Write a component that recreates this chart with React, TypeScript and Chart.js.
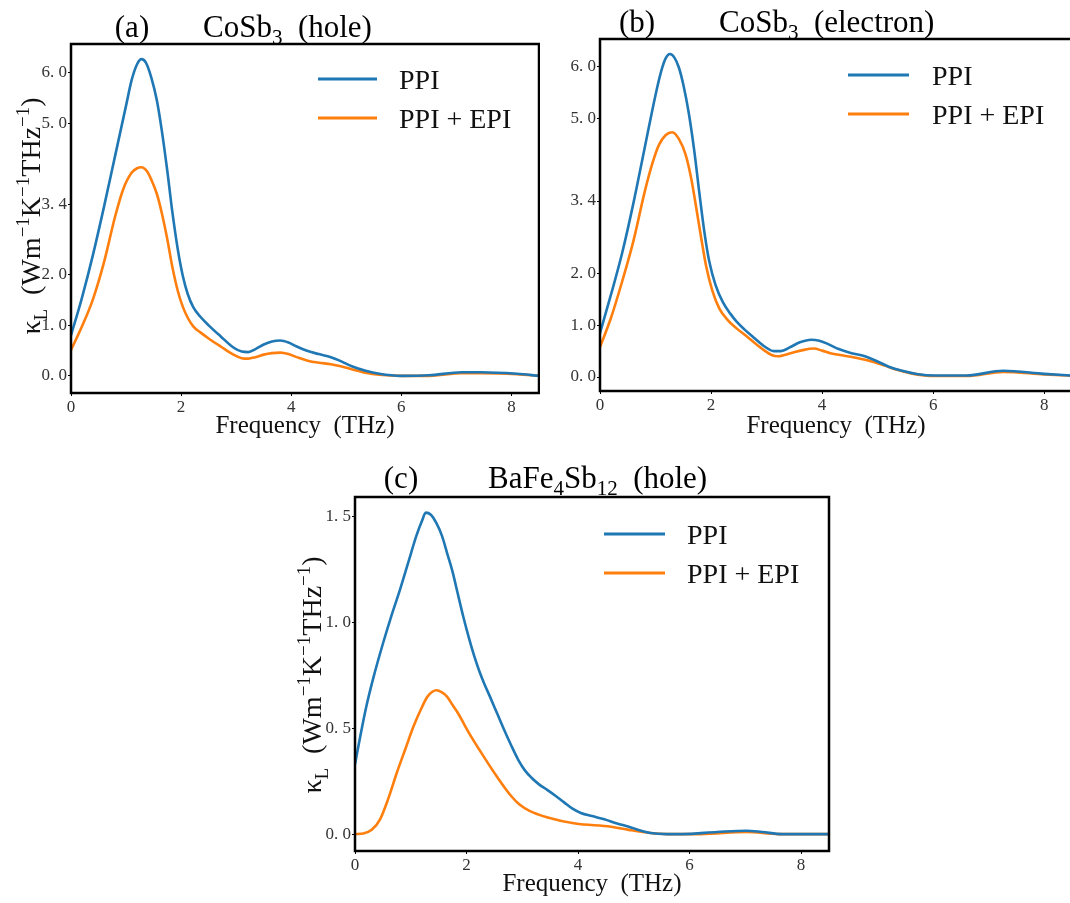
import React, { useEffect, useRef } from 'react';
import { Chart, registerables } from 'chart.js';

Chart.register(...registerables);

const BLUE = '#1f77b4';
const ORANGE = '#ff7f0e';
const SERIF = '"Liberation Serif", "Times New Roman", serif';

// ---------- data ----------
const xTicks = [0, 2, 4, 6, 8];
const seriesNames = ['PPI', 'PPI + EPI'];

// (a) CoSb3 hole
const freqA_ppi = [0, 0.2, 0.4, 0.6, 0.8, 1.0, 1.1, 1.2, 1.28, 1.36, 1.46, 1.56, 1.65, 1.75, 1.84, 1.94, 2.03, 2.12, 2.22, 2.35, 2.5, 2.72, 2.95, 3.1, 3.22, 3.35, 3.5, 3.65, 3.8, 3.95, 4.1, 4.3, 4.5, 4.72, 4.9, 5.1, 5.35, 5.6, 6.0, 6.5, 7.1, 7.45, 8.1, 8.5];
const ppiA = [0.8, 1.55, 2.4, 3.35, 4.35, 5.35, 5.85, 6.17, 6.27, 6.2, 5.9, 5.45, 4.85, 4.05, 3.25, 2.5, 1.98, 1.62, 1.36, 1.17, 1.0, 0.78, 0.56, 0.48, 0.47, 0.53, 0.62, 0.68, 0.7, 0.66, 0.58, 0.49, 0.43, 0.37, 0.29, 0.19, 0.1, 0.04, 0.0, 0.01, 0.07, 0.07, 0.04, 0.0];
const freqA_epi = [0, 0.2, 0.4, 0.6, 0.8, 0.95, 1.1, 1.2, 1.28, 1.38, 1.46, 1.56, 1.65, 1.75, 1.84, 1.94, 2.03, 2.12, 2.22, 2.35, 2.5, 2.72, 2.95, 3.1, 3.22, 3.35, 3.5, 3.65, 3.8, 3.95, 4.1, 4.3, 4.5, 4.72, 4.9, 5.1, 5.35, 5.6, 6.0, 6.5, 7.1, 7.45, 8.1, 8.5];
const epiA = [0.51, 0.98, 1.52, 2.25, 3.15, 3.7, 4.02, 4.11, 4.13, 4.05, 3.88, 3.6, 3.22, 2.7, 2.16, 1.68, 1.37, 1.15, 0.98, 0.86, 0.74, 0.58, 0.42, 0.35, 0.34, 0.37, 0.42, 0.45, 0.46, 0.43, 0.37, 0.3, 0.26, 0.23, 0.19, 0.13, 0.06, 0.02, 0.0, 0.0, 0.05, 0.05, 0.03, 0.0];
const yTicksA = [0, 1, 2, 3.4, 5, 6];
const yLabelsA = ['0. 0', '1. 0', '2. 0', '3. 4', '5. 0', '6. 0'];

// (b) CoSb3 electron
const freqB_ppi = [0, 0.2, 0.4, 0.6, 0.8, 1.0, 1.1, 1.18, 1.26, 1.34, 1.42, 1.5, 1.6, 1.7, 1.79, 1.88, 1.97, 2.08, 2.21, 2.35, 2.46, 2.6, 2.76, 2.95, 3.13, 3.25, 3.43, 3.6, 3.8, 3.95, 4.1, 4.3, 4.5, 4.77, 5.0, 5.2, 5.44, 5.7, 6.04, 6.6, 7.26, 8.0, 8.6];
const ppiB = [0.85, 1.6, 2.4, 3.35, 4.4, 5.45, 5.9, 6.15, 6.24, 6.17, 5.98, 5.65, 5.09, 4.35, 3.55, 2.8, 2.22, 1.78, 1.45, 1.22, 1.07, 0.92, 0.77, 0.6, 0.5, 0.5, 0.58, 0.67, 0.72, 0.7, 0.64, 0.54, 0.47, 0.4, 0.3, 0.2, 0.12, 0.06, 0.03, 0.03, 0.12, 0.06, 0.02];
const freqB_epi = [0, 0.2, 0.4, 0.6, 0.81, 0.95, 1.06, 1.18, 1.3, 1.42, 1.54, 1.64, 1.73, 1.82, 1.91, 2.02, 2.15, 2.3, 2.46, 2.6, 2.76, 2.95, 3.1, 3.2, 3.43, 3.65, 3.85, 4.0, 4.15, 4.35, 4.52, 4.83, 5.13, 5.35, 5.6, 6.04, 6.6, 7.26, 8.0, 8.6];
const epiB = [0.58, 1.15, 1.85, 2.62, 3.6, 4.15, 4.48, 4.67, 4.73, 4.6, 4.3, 3.85, 3.29, 2.7, 2.15, 1.68, 1.32, 1.1, 0.94, 0.82, 0.68, 0.52, 0.42, 0.4, 0.46, 0.52, 0.55, 0.51, 0.46, 0.42, 0.39, 0.32, 0.22, 0.14, 0.07, 0.02, 0.02, 0.1, 0.05, 0.02];
const yTicksB = [0, 1, 2, 3.4, 5, 6];
const yLabelsB = ['0. 0', '1. 0', '2. 0', '3. 4', '5. 0', '6. 0'];

// (c) BaFe4Sb12 hole
const freqC_ppi = [0, 0.1, 0.2, 0.33, 0.5, 0.65, 0.8, 0.95, 1.1, 1.2, 1.27, 1.36, 1.46, 1.56, 1.65, 1.75, 1.84, 1.94, 2.04, 2.14, 2.23, 2.32, 2.42, 2.55, 2.68, 2.8, 2.93, 3.05, 3.17, 3.3, 3.44, 3.6, 3.75, 3.9, 4.05, 4.25, 4.47, 4.7, 4.91, 5.1, 5.3, 5.6, 5.87, 6.5, 7.02, 7.3, 7.66, 8.5];
const ppiC = [0.33, 0.47, 0.6, 0.74, 0.9, 1.03, 1.15, 1.28, 1.41, 1.48, 1.52, 1.51, 1.47, 1.41, 1.33, 1.24, 1.14, 1.03, 0.93, 0.84, 0.77, 0.71, 0.65, 0.57, 0.49, 0.42, 0.35, 0.3, 0.265, 0.235, 0.21, 0.18, 0.15, 0.12, 0.1, 0.085, 0.07, 0.05, 0.035, 0.018, 0.005, 0.0, 0.0, 0.01, 0.016, 0.01, 0.0, 0.0];
const freqC_epi = [0, 0.15, 0.3, 0.45, 0.6, 0.75, 0.9, 1.05, 1.2, 1.3, 1.46, 1.56, 1.65, 1.75, 1.85, 2.04, 2.3, 2.55, 2.8, 2.95, 3.13, 3.44, 3.95, 4.59, 4.91, 5.3, 5.6, 6.2, 7.02, 7.6, 8.5];
const epiC = [0.0, 0.003, 0.02, 0.07, 0.17, 0.29, 0.4, 0.51, 0.6, 0.65, 0.68, 0.67, 0.65, 0.61, 0.57, 0.48, 0.37, 0.27, 0.18, 0.14, 0.11, 0.08, 0.05, 0.035, 0.02, 0.005, 0.0, 0.0, 0.01, 0.0, 0.0];
const yTicksC = [0, 0.5, 1.0, 1.5];
const yLabelsC = ['0. 0', '0. 5', '1. 0', '1. 5'];

// ---------- rich text helper ----------
type Seg = { t: string; sub?: boolean; sup?: boolean };

function drawRich(ctx: CanvasRenderingContext2D, segs: Seg[], x: number, y: number, size: number, align: 'left' | 'center') {
  const fontOf = (s: Seg) => `${s.sub || s.sup ? Math.round(size * 0.68) : size}px ${SERIF}`;
  let total = 0;
  const widths = segs.map((s) => {
    ctx.font = fontOf(s);
    const w = ctx.measureText(s.t).width;
    total += w;
    return w;
  });
  let cx = align === 'center' ? x - total / 2 : x;
  ctx.textAlign = 'left';
  ctx.textBaseline = 'alphabetic';
  segs.forEach((s, i) => {
    ctx.font = fontOf(s);
    const dy = s.sub ? size * 0.24 : s.sup ? -size * 0.4 : 0;
    ctx.fillText(s.t, cx, y + dy);
    cx += widths[i];
  });
}

const yTitleSegs: Seg[] = [
  { t: 'κ' }, { t: 'L', sub: true }, { t: '  (Wm' }, { t: '−1', sup: true }, { t: 'K' }, { t: '−1', sup: true },
  { t: 'THz' }, { t: '−1', sup: true }, { t: ')' },
];

type PanelCfg = {
  pos: { left: number; top: number; width: number; height: number };
  area: { left: number; top: number; right: number; bottom: number };
  xMax: number;
  yMin: number;
  yMax: number;
  yTicks: number[];
  yLabels: string[];
  series: { x: number[]; y: number[]; color: string; label: string }[];
  tag: { text: string; cx: number; base: number };
  main: { segs: Seg[]; x: number; base: number };
  legend: { x1: number; x2: number; y1: number; y2: number; textX: number };
  xTitleBase: number;
  yTitle?: { x: number; cy: number };
};

const panels: PanelCfg[] = [
  {
    pos: { left: 0, top: 0, width: 540, height: 450 },
    area: { left: 71, top: 44, right: 539, bottom: 393 },
    xMax: 8.5, yMin: -0.34, yMax: 6.57, yTicks: yTicksA, yLabels: yLabelsA,
    series: [
      { x: freqA_ppi, y: ppiA, color: BLUE, label: seriesNames[0] },
      { x: freqA_epi, y: epiA, color: ORANGE, label: seriesNames[1] },
    ],
    tag: { text: '(a)', cx: 132, base: 37 },
    main: { segs: [{ t: 'CoSb' }, { t: '3', sub: true }, { t: '  (hole)' }], x: 203, base: 37 },
    legend: { x1: 318, x2: 377, y1: 79, y2: 118, textX: 399 },
    xTitleBase: 433,
    yTitle: { x: 40, cy: 216 },
  },
  {
    pos: { left: 540, top: 0, width: 540, height: 450 },
    area: { left: 60, top: 39, right: 532, bottom: 391 },
    xMax: 8.5, yMin: -0.27, yMax: 6.53, yTicks: yTicksB, yLabels: yLabelsB,
    series: [
      { x: freqB_ppi, y: ppiB, color: BLUE, label: seriesNames[0] },
      { x: freqB_epi, y: epiB, color: ORANGE, label: seriesNames[1] },
    ],
    tag: { text: '(b)', cx: 97, base: 32 },
    main: { segs: [{ t: 'CoSb' }, { t: '3', sub: true }, { t: '  (electron)' }], x: 179, base: 32 },
    legend: { x1: 308, x2: 369, y1: 75, y2: 114, textX: 392 },
    xTitleBase: 433,
  },
  {
    pos: { left: 290, top: 460, width: 560, height: 443 },
    area: { left: 65, top: 37, right: 539, bottom: 391 },
    xMax: 8.5, yMin: -0.08, yMax: 1.594, yTicks: yTicksC, yLabels: yLabelsC,
    series: [
      { x: freqC_ppi, y: ppiC, color: BLUE, label: seriesNames[0] },
      { x: freqC_epi, y: epiC, color: ORANGE, label: seriesNames[1] },
    ],
    tag: { text: '(c)', cx: 111, base: 28 },
    main: { segs: [{ t: 'BaFe' }, { t: '4', sub: true }, { t: 'Sb' }, { t: '12', sub: true }, { t: '  (hole)' }], x: 198, base: 28 },
    legend: { x1: 314, x2: 375, y1: 74, y2: 113, textX: 397 },
    xTitleBase: 431,
    yTitle: { x: 31, cy: 215 },
  },
];

function Panel({ cfg }: { cfg: PanelCfg }) {
  const ref = useRef<HTMLCanvasElement | null>(null);
  useEffect(() => {
    if (!ref.current) return;
    const { pos, area } = cfg;
    const deco = {
      id: 'deco',
      afterDraw(chart: any) {
        const ctx: CanvasRenderingContext2D = chart.ctx;
        const a = chart.chartArea;
        ctx.save();
        // frame
        ctx.strokeStyle = '#000';
        ctx.lineWidth = 2.5;
        ctx.strokeRect(a.left, a.top, a.right - a.left, a.bottom - a.top);
        ctx.fillStyle = '#000';
        // titles
        ctx.font = `31px ${SERIF}`;
        ctx.textAlign = 'center';
        ctx.textBaseline = 'alphabetic';
        ctx.fillText(cfg.tag.text, cfg.tag.cx, cfg.tag.base);
        drawRich(ctx, cfg.main.segs, cfg.main.x, cfg.main.base, 31, 'left');
        // x title
        ctx.font = `25px ${SERIF}`;
        ctx.textAlign = 'center';
        ctx.fillStyle = '#111';
        ctx.fillText('Frequency  (THz)', (a.left + a.right) / 2, cfg.xTitleBase);
        // y title
        if (cfg.yTitle) {
          ctx.save();
          ctx.translate(cfg.yTitle.x, cfg.yTitle.cy);
          ctx.rotate(-Math.PI / 2);
          drawRich(ctx, yTitleSegs, 0, 0, 28, 'center');
          ctx.restore();
        }
        // legend
        const L = cfg.legend;
        [L.y1, L.y2].forEach((yy, i) => {
          ctx.strokeStyle = cfg.series[i].color;
          ctx.lineWidth = 3;
          ctx.beginPath();
          ctx.moveTo(L.x1, yy);
          ctx.lineTo(L.x2, yy);
          ctx.stroke();
          ctx.fillStyle = '#111';
          ctx.font = `28px ${SERIF}`;
          ctx.textAlign = 'left';
          ctx.textBaseline = 'alphabetic';
          ctx.fillText(cfg.series[i].label, L.textX, yy + 10);
        });
        ctx.restore();
      },
    };
    const tickFont = { family: SERIF, size: 17 };
    const chart = new Chart(ref.current, {
      type: 'line',
      data: {
        datasets: cfg.series.map((s) => ({
          label: s.label,
          data: s.x.map((x, i) => ({ x, y: s.y[i] })),
          borderColor: s.color,
          backgroundColor: s.color,
          borderWidth: 2.6,
          pointRadius: 0,
          cubicInterpolationMode: 'monotone' as const,
          fill: false,
        })),
      },
      options: {
        animation: false,
        responsive: false,
        layout: { padding: { left: 0, top: area.top, right: pos.width - area.right, bottom: 0 } },
        plugins: { legend: { display: false }, title: { display: false }, tooltip: { enabled: false } },
        scales: {
          x: {
            type: 'linear',
            min: 0,
            max: cfg.xMax,
            afterFit: (s: any) => { s.height = pos.height - area.bottom; },
            afterBuildTicks: (s: any) => { s.ticks = xTicks.map((v) => ({ value: v })); },
            ticks: { font: tickFont, color: '#333', padding: 1, maxRotation: 0, callback: (v: any) => String(v) },
            grid: { drawOnChartArea: false, drawTicks: true, tickLength: 3, color: '#000', lineWidth: 1 },
            border: { display: false },
          },
          y: {
            type: 'linear',
            min: cfg.yMin,
            max: cfg.yMax,
            afterFit: (s: any) => { s.width = area.left; },
            afterBuildTicks: (s: any) => { s.ticks = cfg.yTicks.map((v) => ({ value: v })); },
            ticks: {
              font: tickFont,
              color: '#333',
              padding: 1,
              callback: (_v: any, i: number) => cfg.yLabels[i],
            },
            grid: { drawOnChartArea: false, drawTicks: true, tickLength: 3, color: '#000', lineWidth: 1 },
            border: { display: false },
          },
        },
      },
      plugins: [deco],
    } as any);
    return () => chart.destroy();
  }, [cfg]);
  return (
    <canvas
      ref={ref}
      width={cfg.pos.width}
      height={cfg.pos.height}
      style={{ position: 'absolute', left: cfg.pos.left, top: cfg.pos.top, width: cfg.pos.width, height: cfg.pos.height }}
    />
  );
}

export default function App() {
  return (
    <div style={{ position: 'absolute', left: 0, top: 0, width: 1070, height: 903, overflow: 'hidden', background: '#fff' }}>
      {panels.map((p, i) => (
        <Panel key={i} cfg={p} />
      ))}
    </div>
  );
}
